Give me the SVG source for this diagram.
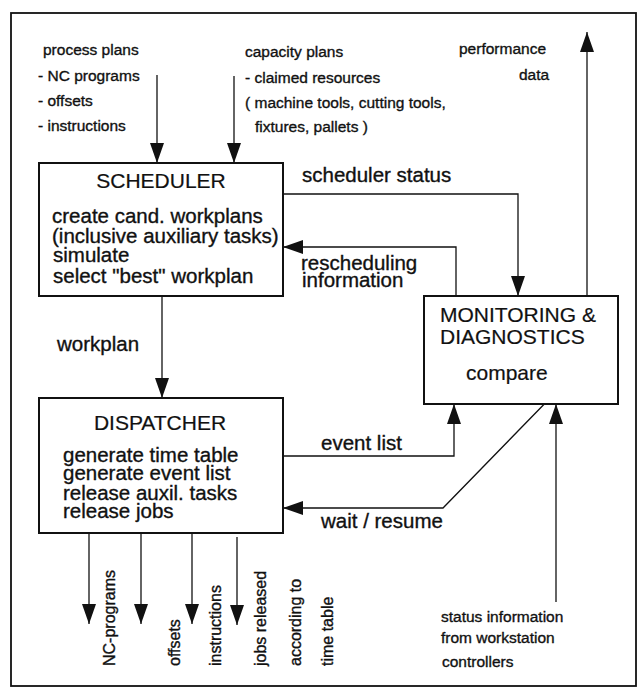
<svg xmlns="http://www.w3.org/2000/svg" width="642" height="692" viewBox="0 0 642 692">
  <style>
    text { font-family: "Liberation Sans", Arial, Helvetica, sans-serif; fill: #111; stroke: #111; stroke-width: 0.35; }
    .small { font-size: 15.5px; }
    .label { font-size: 20.5px; }
    .title { font-size: 21px; stroke-width: 0.2; }
    .body { font-size: 20.5px; }
    .vert { font-size: 16px; }
    .box { fill: #fff; stroke: #111; stroke-width: 2; }
    .frame { fill: #fff; stroke: #111; stroke-width: 1.8; }
    .wire { fill: none; stroke: #111; stroke-width: 1.3; }
    .arrow { fill: none; stroke: #111; stroke-width: 1.3; marker-end: url(#head); }
  </style>
  <defs>
    <marker id="head" viewBox="0 0 20 14" refX="20" refY="7" markerWidth="20" markerHeight="14" markerUnits="userSpaceOnUse" orient="auto">
      <path d="M0,0 L20,7 L0,14 Z" fill="#111"/>
    </marker>
  </defs>

  <rect width="642" height="692" fill="#fff"/>
  <rect class="frame" x="11" y="13" width="625" height="673"/>

  <!-- inputs -->
  <g id="process-plans">
    <text class="small" x="43" y="55">process plans</text>
    <text class="small" x="38" y="81">- NC programs</text>
    <text class="small" x="38" y="106">- offsets</text>
    <text class="small" x="38" y="131">- instructions</text>
  </g>
  <g id="capacity-plans">
    <text class="small" x="245" y="57">capacity plans</text>
    <text class="small" x="245" y="83">- claimed resources</text>
    <text class="small" x="245" y="108">( machine tools, cutting tools,</text>
    <text class="small" x="255" y="132">fixtures, pallets )</text>
  </g>
  <g id="performance-data">
    <text class="small" x="459" y="54">performance</text>
    <text class="small" x="519" y="80">data</text>
  </g>

  <!-- connectors -->
  <g id="connectors">
    <path class="arrow" d="M157,75 V163"/>
    <path class="arrow" d="M234,76 V163"/>
    <path class="arrow" d="M587,296 V32"/>
    <path class="arrow" d="M283,194 H518 V296"/>
    <path class="arrow" d="M456,296 V247 H283"/>
    <path class="arrow" d="M162,296 V398"/>
    <path class="arrow" d="M283,456 H454 V404"/>
    <path class="wire" d="M454,404 V391 H557"/>
    <path class="arrow" d="M557,391 L443,508 H283"/>
    <path class="arrow" d="M556,602 V404"/>
    <path class="arrow" d="M89,533 V624"/>
    <path class="arrow" d="M141,533 V624"/>
    <path class="arrow" d="M192,533 V624"/>
    <path class="arrow" d="M237,537 V625"/>
    <text class="label" x="302" y="182">scheduler status</text>
    <text class="label" x="301" y="270">rescheduling</text>
    <text class="label" x="302" y="287">information</text>
    <text class="label" x="57" y="351">workplan</text>
    <text class="label" x="321" y="450">event list</text>
    <text class="label" x="321" y="528">wait / resume</text>
  </g>

  <g id="scheduler">
    <rect class="box" x="39" y="163" width="244" height="133"/>
    <text class="title" x="161" y="188" text-anchor="middle">SCHEDULER</text>
    <text class="body" x="52" y="223">create cand. workplans</text>
    <text class="body" x="52" y="243">(inclusive auxiliary tasks)</text>
    <text class="body" x="53" y="262">simulate</text>
    <text class="body" x="53" y="283">select "best" workplan</text>
  </g>

  <g id="dispatcher">
    <rect class="box" x="39" y="398" width="244" height="135"/>
    <text class="title" x="160" y="430" text-anchor="middle">DISPATCHER</text>
    <text class="body" x="63" y="462">generate time table</text>
    <text class="body" x="63" y="480">generate event list</text>
    <text class="body" x="63" y="500">release auxil. tasks</text>
    <text class="body" x="63" y="518">release jobs</text>
  </g>

  <g id="monitoring">
    <rect class="box" x="424" y="296" width="194" height="108" fill="none"/>
    <text class="title" x="440" y="322">MONITORING &amp;</text>
    <text class="title" x="440" y="344">DIAGNOSTICS</text>
    <text class="title" x="466" y="380">compare</text>
  </g>

  <!-- dispatcher outputs -->
  <g id="outputs">
    <text class="vert" transform="translate(115,666) rotate(-90)">NC-programs</text>
    <text class="vert" transform="translate(180,666) rotate(-90)">offsets</text>
    <text class="vert" transform="translate(221,666) rotate(-90)">instructions</text>
    <text class="vert" transform="translate(266,666) rotate(-90)">jobs released</text>
    <text class="vert" transform="translate(301,666) rotate(-90)">according to</text>
    <text class="vert" transform="translate(333,666) rotate(-90)">time table</text>
  </g>

  <g id="status-information">
    <text class="small" x="441" y="622">status information</text>
    <text class="small" x="441" y="643">from workstation</text>
    <text class="small" x="442" y="667">controllers</text>
  </g>
</svg>
